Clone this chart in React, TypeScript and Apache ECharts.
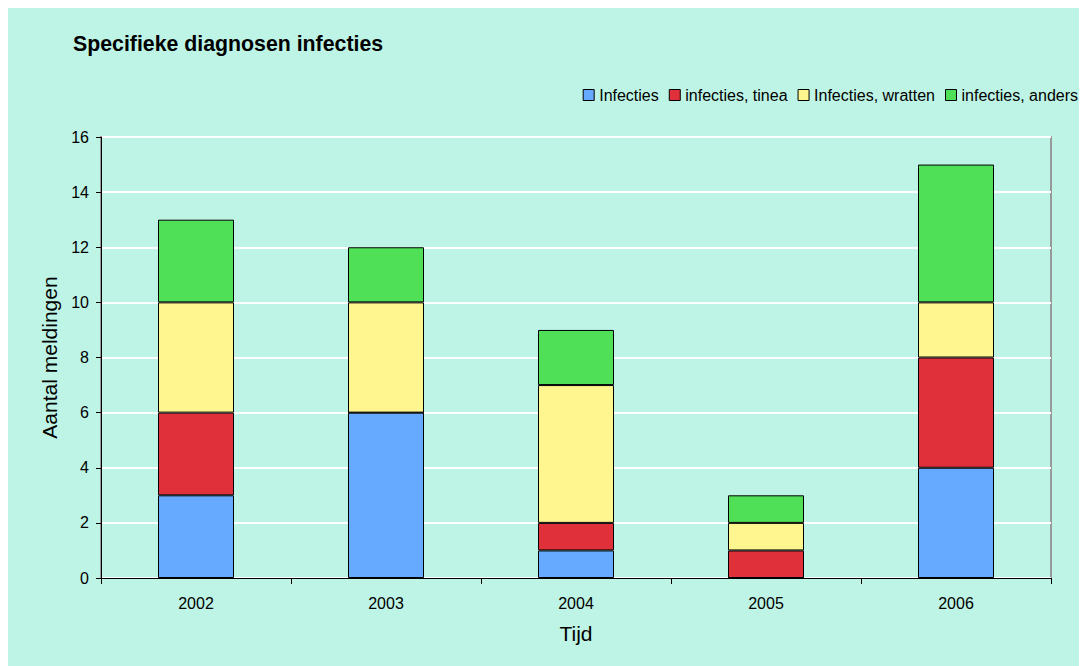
import React, { useEffect, useRef } from "react";
import * as echarts from "echarts";

const categories = ["2002", "2003", "2004", "2005", "2006"];
const infecties = [3, 6, 1, 0, 4];
const tinea = [3, 0, 1, 1, 4];
const wratten = [4, 4, 5, 1, 2];
const anders = [3, 2, 2, 1, 5];
const seriesNames = ["Infecties", "infecties, tinea", "Infecties, wratten", "infecties, anders"];
const colors = ["#66AAFF", "#E0303A", "#FFF690", "#50E058"];

export default function App() {
  const ref = useRef<HTMLDivElement>(null);
  useEffect(() => {
    const chart = echarts.init(ref.current!, null, { renderer: "svg" });
    const font = "'Liberation Sans', Arial, sans-serif";
    const data = [infecties, tinea, wratten, anders];
    chart.setOption({
      animation: false,
      backgroundColor: "#BEF4E5",
      textStyle: { fontFamily: font },
      title: {
        text: "Specifieke diagnosen infecties",
        left: 65,
        top: 25,
        padding: 0,
        textStyle: { fontFamily: font, fontSize: 21.3, fontWeight: "bold", color: "#000" },
      },
      legend: {
        right: 6,
        top: 79,
        padding: 0,
        itemWidth: 11,
        itemHeight: 11,
        itemGap: 10,
        icon: "rect",
        textStyle: { fontFamily: font, fontSize: 16, color: "#000" },
        data: seriesNames.map((n, i) => ({
          name: n,
          itemStyle: { color: colors[i], borderColor: "#000", borderWidth: 1 },
        })),
      },
      grid: {
        left: 93,
        right: 33,
        top: 129,
        bottom: 90,
        show: true,
        borderColor: "#999",
        borderWidth: 2,
        backgroundColor: "transparent",
      },
      xAxis: {
        type: "category",
        data: categories,
        name: "Tijd",
        nameLocation: "middle",
        nameGap: 45,
        nameTextStyle: { fontFamily: font, fontSize: 21, color: "#000" },
        axisLine: { lineStyle: { color: "#000", width: 1 } },
        axisTick: { show: true, length: 6, inside: false, lineStyle: { color: "#000" } },
        axisLabel: { fontFamily: font, fontSize: 16, color: "#000", margin: 17 },
      },
      yAxis: {
        type: "value",
        min: 0,
        max: 16,
        interval: 2,
        name: "Aantal meldingen",
        nameLocation: "middle",
        nameGap: 40,
        nameTextStyle: { fontFamily: font, fontSize: 21, color: "#000" },
        axisLine: { show: true, lineStyle: { color: "#000", width: 1 } },
        axisTick: { show: true, length: 5, lineStyle: { color: "#000" } },
        axisLabel: { fontFamily: font, fontSize: 16, color: "#000", margin: 12 },
        splitLine: { show: true, lineStyle: { color: "#fff", width: 2 } },
      },
      series: seriesNames.map((n, i) => ({
        name: n,
        type: "bar",
        stack: "total",
        barWidth: "40%",
        data: data[i],
        itemStyle: { color: colors[i], borderColor: "#000", borderWidth: 1 },
      })),
    });
    return () => chart.dispose();
  }, []);
  return <div ref={ref} style={{ width: 1076, height: 660 }} />;
}
